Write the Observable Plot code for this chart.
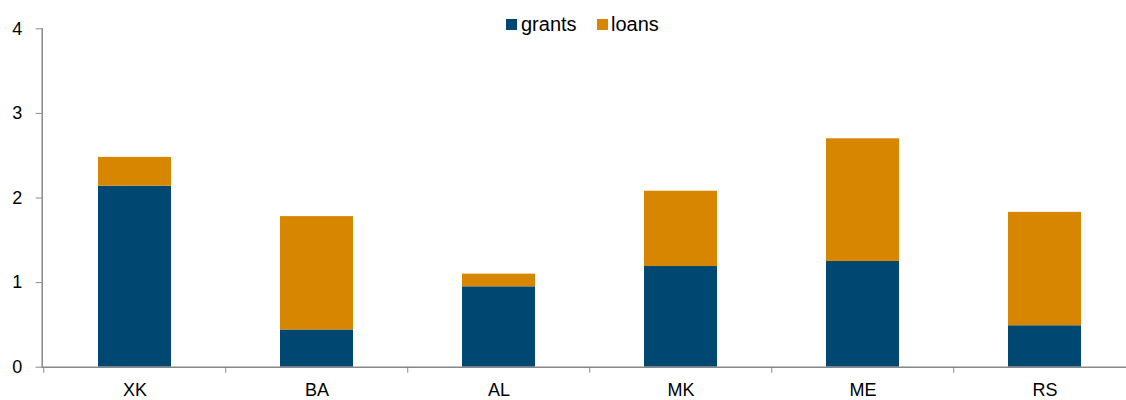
<!DOCTYPE html>
<html><head><meta charset="utf-8">
<script src="https://cdn.jsdelivr.net/npm/d3@7"></script>
<script src="https://cdn.jsdelivr.net/npm/@observablehq/plot@0.6"></script>
<style>
body{margin:0;background:#fff;font-family:"Liberation Sans",Arial,sans-serif;}
#wrap{position:relative;width:1126px;height:400px;overflow:hidden;}
.sw{position:absolute;width:11px;height:11px;}
.lt{position:absolute;font-size:20px;line-height:20px;color:#000;white-space:nowrap;}
</style></head><body>
<div id="wrap"></div>
<script>
const categories = ["XK","BA","AL","MK","ME","RS"];
const series = ["grants","loans"];
const grants = [2.14,0.44,0.95,1.19,1.25,0.49];
const loans  = [0.34,1.34,0.15,0.89,1.45,1.34];
const yTicks = [0,1,2,3,4];
const colors = ["#004872","#D68600"];

const data = [];
categories.forEach((c,i)=>{
  data.push({cat:c, series:"grants", value:grants[i]});
  data.push({cat:c, series:"loans", value:loans[i]});
});

const W=1126,H=400,mL=41.7,mT=28.3,mB=33.3,mR=-10.75;
const step=(W-mR-mL)/categories.length;

const chart = Plot.plot({
  width:W,height:H,marginLeft:mL,marginTop:mT,marginBottom:mB,marginRight:mR,
  style:{fontFamily:"'Liberation Sans', Arial, sans-serif",fontSize:"18px",color:"#000",background:"#fff",overflow:"visible"},
  x:{domain:categories,paddingInner:0.6,paddingOuter:0.3,label:null,axis:null},
  y:{domain:[0,4],label:null,axis:null},
  color:{domain:series,range:colors},
  marks:[
    Plot.barY(data,{x:"cat",y:"value",fill:"series"}),
    Plot.ruleY([0],{stroke:"#888",strokeWidth:1.5}),
    Plot.frame({anchor:"left",stroke:"#888",strokeWidth:1.5}),
    Plot.axisY({ticks:yTicks,tickFormat:d3.format("d"),tickSize:6,tickPadding:14,stroke:"#888",fill:"#000",fontSize:18,label:null}),
    Plot.axisX({tickSize:0,tickPadding:16.5,fill:"#000",fontSize:18,label:null}),
    Plot.axisX({tickSize:6,tickFormat:()=>"",stroke:"#888",dx:-step/2,label:null})
  ]
});
const wrap=document.getElementById("wrap");
wrap.appendChild(chart);

const legendPos=[{sx:505.5,tx:521},{sx:596.5,tx:611}];
series.forEach((s,i)=>{
  const sw=document.createElement("div");
  sw.className="sw";sw.style.left=legendPos[i].sx+"px";sw.style.top="18.5px";sw.style.background=colors[i];
  wrap.appendChild(sw);
  const t=document.createElement("div");
  t.className="lt";t.style.left=legendPos[i].tx+"px";t.style.top="14px";t.textContent=s;
  wrap.appendChild(t);
});
</script>
</body></html>
